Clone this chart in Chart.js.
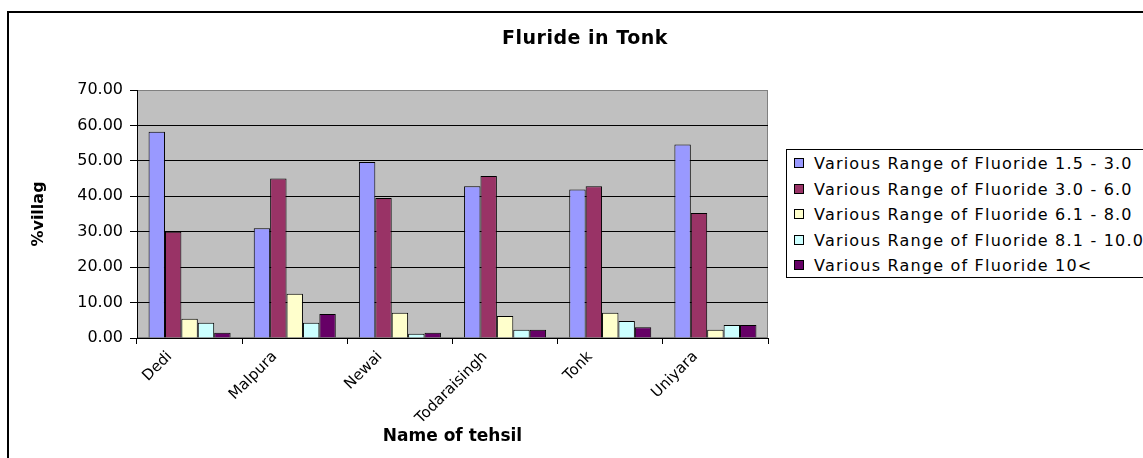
<!DOCTYPE html>
<html>
<head>
<meta charset="utf-8">
<script src="https://cdn.jsdelivr.net/npm/chart.js@4"></script>
<style>
  html, body { margin: 0; padding: 0; background: #fff; overflow: hidden; }
  #wrap { position: relative; width: 1143px; height: 458px; overflow: hidden; }
  #frame { position: absolute; left: 7px; top: 11px; width: 1200px; height: 500px; border: 2px solid #000; }
  #chart { position: absolute; left: 0; top: 0; }
  #title { position: absolute; left: 385px; width: 400px; top: 26px; text-align: center; letter-spacing: 0.5px;
           font: bold 19px "DejaVu Sans", sans-serif; color: #000; }
  #legend { position: absolute; left: 786px; top: 149px; width: 420px; height: 127px;
            border: 1px solid #000; background: #fff; font: 16px "DejaVu Sans", sans-serif; letter-spacing: 1.2px; }
  .item { position: absolute; left: 7px; height: 20px; line-height: 20px; white-space: nowrap; }
  .box { display: inline-block; width: 8px; height: 8px; border: 1px solid #000; margin-right: 10px; vertical-align: 1px; }
</style>
</head>
<body>
<div id="wrap">
  <div id="frame"></div>
  <canvas id="chart" width="1143" height="458"></canvas>
  <div id="title">Fluride in Tonk</div>
  <div id="legend"></div>
</div>
<script>
const tehsils = ['Dedi', 'Malpura', 'Newai', 'Todaraisingh', 'Tonk', 'Uniyara'];
const seriesNames = [
    'Various Range of Fluoride 1.5 - 3.0',
    'Various Range of Fluoride 3.0 - 6.0',
    'Various Range of Fluoride 6.1 - 8.0',
    'Various Range of Fluoride 8.1 - 10.0',
    'Various Range of Fluoride 10<'
];
const range15to30 = [58.2, 31.0, 49.7, 42.8, 41.9, 54.6];
const range30to60 = [30.0, 45.0, 39.5, 45.7, 42.8, 35.3];
const range61to80 = [5.4, 12.5, 7.1, 6.2, 7.1, 2.3];
const range81to100 = [4.3, 4.3, 1.2, 2.3, 4.8, 3.7];
const range10plus = [1.5, 6.8, 1.5, 2.3, 3.0, 3.7];
const colors = ['#9999FF', '#993366', '#FFFFCC', '#CCFFFF', '#660066'];
const yTicks = [0, 10, 20, 30, 40, 50, 60, 70];

const allSeries = [range15to30, range30to60, range61to80, range81to100, range10plus];

// gray plot area like the old excel charts
const plotBg = {
    id: 'plotBg',
    beforeDraw(chart) {
        const a = chart.chartArea;
        const ctx = chart.ctx;
        ctx.save();
        ctx.fillStyle = '#C0C0C0';
        ctx.fillRect(a.left, a.top, a.right - a.left, a.bottom - a.top);
        ctx.strokeStyle = '#808080';
        ctx.lineWidth = 1;
        ctx.strokeRect(a.left + 0.5, a.top + 0.5, a.right - a.left - 1, a.bottom - a.top - 1);
        ctx.restore();
    }
};

new Chart(document.getElementById('chart'), {
    type: 'bar',
    data: {
        labels: tehsils,
        datasets: allSeries.map((vals, i) => ({
            label: seriesNames[i],
            data: vals,
            backgroundColor: colors[i],
            borderColor: '#000',
            borderWidth: 1,
            barPercentage: 1,
            categoryPercentage: 0.78
        }))
    },
    options: {
        responsive: false,
        animation: false,
        layout: { padding: { left: 0, top: 90, right: 375, bottom: 0 } },
        plugins: {
            legend: { display: false },
            tooltip: { enabled: false }
        },
        scales: {
            x: {
                afterFit: s => { s.height = 120; },
                grid: { offset: true, drawOnChartArea: false, color: '#000', tickLength: 6 },
                border: { color: '#000', width: 1 },
                ticks: {
                    color: '#000', minRotation: 45, maxRotation: 45, padding: 4, labelOffset: -20,
                    font: { family: 'DejaVu Sans', size: 15 }
                },
                title: {
                    display: true, text: 'Name of tehsil', color: '#000',
                    font: { family: 'DejaVu Sans', size: 17, weight: 'bold' },
                    padding: { top: 0, bottom: 11 }
                }
            },
            y: {
                min: 0, max: 70,
                afterFit: s => { s.width = 137; },
                afterBuildTicks: s => { s.ticks = yTicks.map(v => ({ value: v })); },
                grid: {
                    color: c => (c.tick && c.tick.value === 70 ? '#808080' : '#000'),
                    tickColor: '#000', tickLength: 7
                },
                border: { color: '#000', width: 1 },
                ticks: {
                    color: '#000', padding: 7,
                    font: { family: 'DejaVu Sans', size: 16 },
                    callback: v => Number(v).toFixed(2)
                },
                title: {
                    display: true, text: '%villag', color: '#000',
                    font: { family: 'DejaVu Sans', size: 16, weight: 'bold' },
                    padding: { top: 29, bottom: 0 }
                }
            }
        }
    },
    plugins: [plotBg]
});

const legend = document.getElementById('legend');
seriesNames.forEach((name, i) => {
    const row = document.createElement('div');
    row.className = 'item';
    row.style.top = (4 + i * 25.5) + 'px';
    row.innerHTML = '<span class="box" style="background:' + colors[i] + '"></span>' + name;
    legend.appendChild(row);
});
</script>
</body>
</html>
